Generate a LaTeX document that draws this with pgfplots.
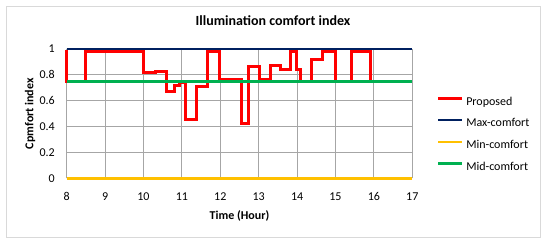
\documentclass[border=0pt]{standalone}
\usepackage{fontspec}
\setmainfont{Carlito}
\usepackage{pgfplots}
\pgfplotsset{compat=1.18}
\definecolor{propred}{HTML}{FF0000}
\definecolor{maxnavy}{HTML}{002060}
\definecolor{mingold}{HTML}{FFC000}
\definecolor{midgreen}{HTML}{00B050}
\definecolor{gridgray}{HTML}{A6A6A6}
\definecolor{framegray}{HTML}{D9D9D9}

\begin{document}
\begin{tikzpicture}
\useasboundingbox (0,0) rectangle (550pt,242pt);
\draw[framegray, line width=1pt] (6.5pt,5pt) rectangle (540pt,236pt);
\begin{axis}[
    scale only axis,
    width=345.6pt, height=129.3pt,
    at={(66.7pt,63.7pt)}, anchor=south west,
    xmin=8, xmax=17, ymin=0, ymax=1,
    xtick={8,9,...,17},
    ytick={0,0.2,0.4,0.6,0.8,1},
    grid=major,
    grid style={gridgray, line width=1.1pt},
    axis line style={draw=none},
    tick style={draw=none},
    clip=false,
    /pgf/number format/assume math mode=true,
    tick label style={font=\fontsize{12}{14}\selectfont},
    xticklabel style={anchor=center, yshift=-18pt},
    yticklabel style={anchor=east, inner sep=0pt, xshift=-11.7pt},
    title={\bfseries Illumination comfort index},
    title style={font=\fontsize{14}{16}\selectfont, at={(0.597,1.176)}, anchor=center},
    xlabel={\bfseries Time (Hour)},
    xlabel style={font=\fontsize{12}{14}\selectfont, at={(0.5,-0.288)}, anchor=center},
    ylabel={\bfseries Cpmfort index},
    ylabel style={font=\fontsize{12}{14}\selectfont, at={(-0.106,0.5)}, anchor=center},
    legend style={draw=none, fill=none, at={(1.0706,0.338)}, anchor=west,
        inner sep=0pt, outer sep=0pt, row sep=9.7pt,
        font=\fontsize{12}{14}\selectfont,
        nodes={inner sep=0pt, text height=9pt, text depth=3pt},
        /tikz/every odd column/.append style={column sep=2.6pt}},
    legend cell align=left,
    legend image code/.code={\draw[#1] (0pt,3.5pt) -- (24pt,3.5pt);},
]
% Proposed
\addplot[propred, line width=3pt, line join=miter] coordinates {
    (8,0.99) (8,0.75) (8.48,0.75) (8.48,0.984) (10.0,0.984) (10.0,0.817)
    (10.3,0.817) (10.3,0.824) (10.59,0.824) (10.59,0.675) (10.82,0.675)
    (10.82,0.714) (10.93,0.714) (10.93,0.74) (11.1,0.74) (11.1,0.451)
    (11.38,0.451) (11.38,0.708) (11.67,0.708) (11.67,0.984) (11.99,0.984)
    (11.99,0.766) (12.56,0.766) (12.56,0.425) (12.73,0.425) (12.73,0.868)
    (13.02,0.868) (13.02,0.766) (13.3,0.766) (13.3,0.876) (13.56,0.876)
    (13.56,0.843) (13.84,0.843) (13.84,0.984) (13.99,0.984) (13.99,0.843)
    (14.08,0.843) (14.08,0.75) (14.38,0.75) (14.38,0.92) (14.67,0.92)
    (14.67,0.984) (14.99,0.984) (14.99,0.75) (15.42,0.75) (15.42,0.984)
    (15.92,0.984) (15.92,0.75) (17,0.75)
};
% Max-comfort
\addplot[maxnavy, line width=2pt] coordinates {(8,1) (17,1)};
% Min-comfort
\addplot[mingold, line width=2.5pt] coordinates {(8,0) (17,0)};
% Mid-comfort
\addplot[midgreen, line width=2.8pt] coordinates {(8,0.75) (17,0.75)};
\legend{Proposed, Max-comfort, Min-comfort, Mid-comfort}
\end{axis}
\end{tikzpicture}
\end{document}
